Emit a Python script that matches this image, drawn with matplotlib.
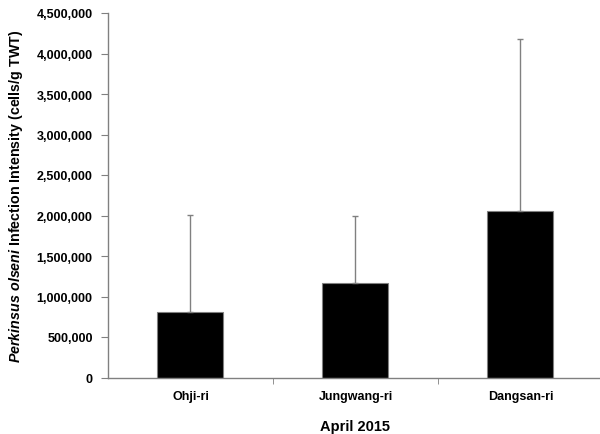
import numpy as np
import matplotlib
matplotlib.use('Agg')
import matplotlib.pyplot as plt
from matplotlib.ticker import FuncFormatter, FixedLocator

plt.rcParams['font.family'] = ['Liberation Sans', 'DejaVu Sans']
plt.rcParams['mathtext.fontset'] = 'custom'
plt.rcParams['mathtext.it'] = 'Liberation Sans:italic:bold'
plt.rcParams['mathtext.rm'] = 'Liberation Sans:bold'

# P. olseni infection intensity by site, April 2015
sites = ['Ohji-ri', 'Jungwang-ri', 'Dangsan-ri']
means = [805000, 1165000, 2058000]
sd_upper = [1205000, 835000, 2125000]

grey = '#808080'

fig = plt.figure(figsize=(6.0, 4.35), dpi=100)
ax = fig.add_axes([108 / 600, 56.5 / 435, 495 / 600, 364.5 / 435])

x = np.arange(len(sites))
ax.bar(x, means, width=0.4, color='black', edgecolor=grey, linewidth=0.8, zorder=2)
ax.errorbar(x, means, yerr=[np.zeros(len(sites)), sd_upper], fmt='none',
            ecolor=grey, elinewidth=1.0, capsize=2.5, capthick=1.0, zorder=3)

ax.set_xlim(-0.5, 2.5)
ax.set_ylim(0, 4500000)
ax.set_yticks(np.arange(0, 4500001, 500000))
ax.yaxis.set_major_formatter(FuncFormatter(lambda v, p: f'{int(v):,}'))

ax.set_xticks(x)
ax.set_xticklabels(sites, fontsize=9, fontweight='bold')
ax.tick_params(axis='x', which='major', length=0, pad=9)
ax.xaxis.set_minor_locator(FixedLocator([0.5, 1.5]))
ax.tick_params(axis='x', which='minor', length=4, color=grey, direction='out')
ax.tick_params(axis='y', length=5, color=grey, direction='out', labelsize=9, pad=6)
for lbl in ax.get_yticklabels():
    lbl.set_fontweight('bold')

for side in ['top', 'right']:
    ax.spines[side].set_visible(False)
for side in ['left', 'bottom']:
    ax.spines[side].set_color(grey)
    ax.spines[side].set_linewidth(1.0)

ax.set_xlabel('April 2015', fontsize=10.5, fontweight='bold', labelpad=12)
ax.set_ylabel(r'$\mathit{Perkinsus\ olseni}$ Infection Intensity (cells/g TWT)',
              fontsize=10.3, fontweight='bold', labelpad=8)

fig.savefig('out.png', dpi=100, facecolor='white')
